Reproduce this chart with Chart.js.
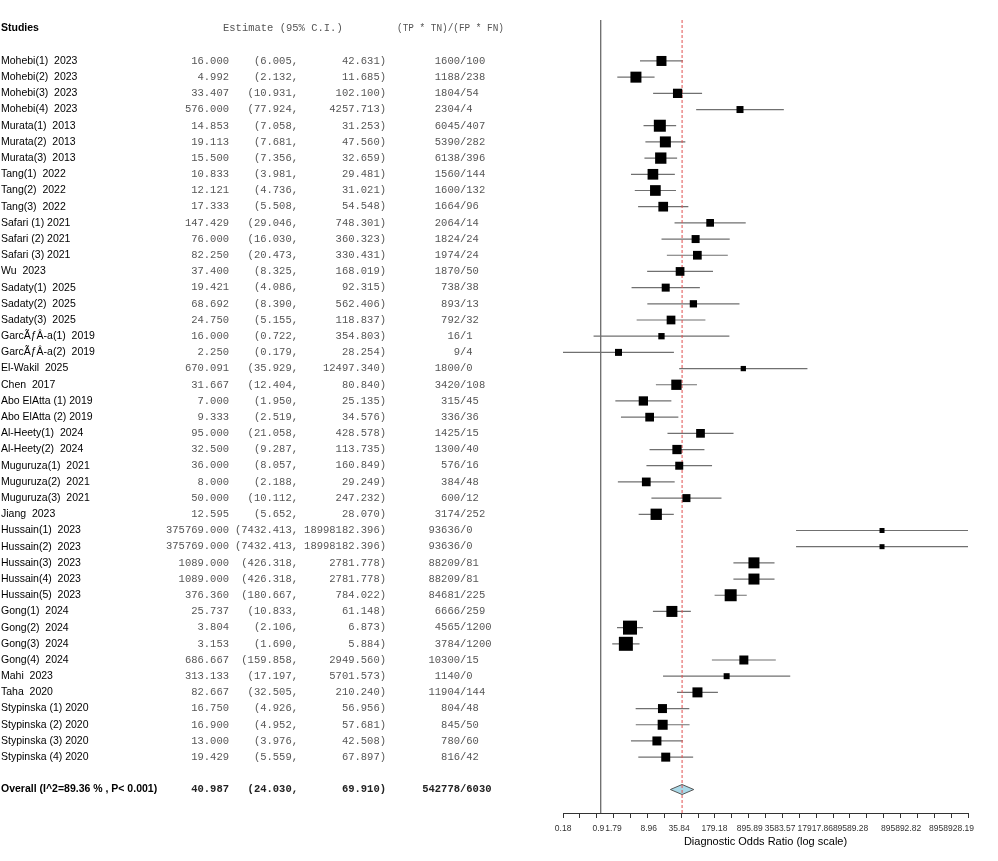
<!DOCTYPE html>
<html>
<head>
<meta charset="utf-8">
<script src="https://cdn.jsdelivr.net/npm/chart.js@4.4.1/dist/chart.umd.min.js"></script>
<style>
  html, body { margin: 0; padding: 0; background: #fff; }
  canvas { display: block; }
</style>
</head>
<body>
<canvas id="forest" width="998" height="861"></canvas>
<script>
// study rows, top to bottom
const studies = [
  "Mohebi(1)  2023", "Mohebi(2)  2023", "Mohebi(3)  2023", "Mohebi(4)  2023",
  "Murata(1)  2013", "Murata(2)  2013", "Murata(3)  2013",
  "Tang(1)  2022", "Tang(2)  2022", "Tang(3)  2022",
  "Safari (1) 2021", "Safari (2) 2021", "Safari (3) 2021",
  "Wu  2023",
  "Sadaty(1)  2025", "Sadaty(2)  2025", "Sadaty(3)  2025",
  "GarcÃƒÂ-a(1)  2019", "GarcÃƒÂ-a(2)  2019",
  "El-Wakil  2025", "Chen  2017",
  "Abo ElAtta (1) 2019", "Abo ElAtta (2) 2019",
  "Al-Heety(1)  2024", "Al-Heety(2)  2024",
  "Muguruza(1)  2021", "Muguruza(2)  2021", "Muguruza(3)  2021",
  "Jiang  2023",
  "Hussain(1)  2023", "Hussain(2)  2023", "Hussain(3)  2023", "Hussain(4)  2023", "Hussain(5)  2023",
  "Gong(1)  2024", "Gong(2)  2024", "Gong(3)  2024", "Gong(4)  2024",
  "Mahi  2023", "Taha  2020",
  "Stypinska (1) 2020", "Stypinska (2) 2020", "Stypinska (3) 2020", "Stypinska (4) 2020"
];

const estimates = [
  16.000, 4.992, 33.407, 576.000,
  14.853, 19.113, 15.500,
  10.833, 12.121, 17.333,
  147.429, 76.000, 82.250,
  37.400,
  19.421, 68.692, 24.750,
  16.000, 2.250,
  670.091, 31.667,
  7.000, 9.333,
  95.000, 32.500,
  36.000, 8.000, 50.000,
  12.595,
  375769.000, 375769.000, 1089.000, 1089.000, 376.360,
  25.737, 3.804, 3.153, 686.667,
  313.133, 82.667,
  16.750, 16.900, 13.000, 19.429
];

const lowerCI = [
  6.005, 2.132, 10.931, 77.924,
  7.058, 7.681, 7.356,
  3.981, 4.736, 5.508,
  29.046, 16.030, 20.473,
  8.325,
  4.086, 8.390, 5.155,
  0.722, 0.179,
  35.929, 12.404,
  1.950, 2.519,
  21.058, 9.287,
  8.057, 2.188, 10.112,
  5.652,
  7432.413, 7432.413, 426.318, 426.318, 180.667,
  10.833, 2.106, 1.690, 159.858,
  17.197, 32.505,
  4.926, 4.952, 3.976, 5.559
];

const upperCI = [
  42.631, 11.685, 102.100, 4257.713,
  31.253, 47.560, 32.659,
  29.481, 31.021, 54.548,
  748.301, 360.323, 330.431,
  168.019,
  92.315, 562.406, 118.837,
  354.803, 28.254,
  12497.340, 80.840,
  25.135, 34.576,
  428.578, 113.735,
  160.849, 29.249, 247.232,
  28.070,
  18998182.396, 18998182.396, 2781.778, 2781.778, 784.022,
  61.148, 6.873, 5.884, 2949.560,
  5701.573, 210.240,
  56.956, 57.681, 42.508, 67.897
];

// (TP * TN) / (FP * FN)
const ratioNum = [
  1600, 1188, 1804, 2304,
  6045, 5390, 6138,
  1560, 1600, 1664,
  2064, 1824, 1974,
  1870,
  738, 893, 792,
  16, 9,
  1800, 3420,
  315, 336,
  1425, 1300,
  576, 384, 600,
  3174,
  93636, 93636, 88209, 88209, 84681,
  6666, 4565, 3784, 10300,
  1140, 11904,
  804, 845, 780, 816
];
const ratioDen = [
  100, 238, 54, 4,
  407, 282, 396,
  144, 132, 96,
  14, 24, 24,
  50,
  38, 13, 32,
  1, 4,
  0, 108,
  45, 36,
  15, 40,
  16, 48, 12,
  252,
  0, 0, 81, 81, 225,
  259, 1200, 1200, 15,
  0, 144,
  48, 50, 60, 42
];

// relative study weights (box area)
const weights = [
  10.0, 12.1, 8.6, 4.9,
  14.4, 12.1, 12.8,
  11.4, 11.4, 9.4,
  5.9, 6.4, 7.6,
  7.6,
  6.4, 5.3, 7.6,
  4.0, 4.9,
  2.8, 10.6,
  8.6, 7.6,
  7.6, 8.6,
  6.4, 7.6, 6.4,
  12.8,
  2.5, 2.5, 12.1, 12.1, 14.4,
  12.1, 19.6, 19.6, 8.1,
  3.6, 10.0,
  8.1, 10.0, 8.1, 8.1
];

const overallLabel = "Overall (I^2=89.36 % , P< 0.001)";
const overallEst = 40.987;
const overallLower = 24.030;
const overallUpper = 69.910;
const overallNum = 542778;
const overallDen = 6030;

const tickLabels = ["0.18", "0.9", "1.79", "8.96", "35.84", "179.18", "895.89",
  "3583.57", "17917.86", "89589.28", "895892.82", "8958928.19"];

// layout helpers
const HEADER_ROW = -2;
const OVERALL_ROW = studies.length + 1;
const Y_TOP = -2.53;
const Y_BOTTOM = 46.45;
const axisMin = Math.min(...lowerCI);
const axisMax = Math.max(...upperCI);
const MARKS = 25;
const markTicks = [];
for (let k = 0; k < MARKS; k++) {
  markTicks.push({ value: axisMin * Math.pow(axisMax / axisMin, k / (MARKS - 1)) });
}
const labelTicks = tickLabels.map(t => ({ value: parseFloat(t) }));

// CI segments, separated by gaps
const ciPoints = [];
studies.forEach((s, i) => {
  ciPoints.push({ x: lowerCI[i], y: i }, { x: upperCI[i], y: i }, { x: null, y: null });
});
const boxPoints = studies.map((s, i) => ({ x: estimates[i], y: i }));
const boxSide = weights.map(w => Math.sqrt(w * 10));

const dh = 0.31;
const diamond = [
  { x: overallLower, y: OVERALL_ROW },
  { x: overallEst, y: OVERALL_ROW - dh },
  { x: overallUpper, y: OVERALL_ROW },
  { x: overallEst, y: OVERALL_ROW + dh },
  { x: overallLower, y: OVERALL_ROW }
];

const SANS = "'Liberation Sans', Arial, sans-serif";
const MONO = "'Liberation Mono', 'Courier New', monospace";

// draws the table on the left, aligned to the y scale rows
const tableText = {
  id: "tableText",
  afterDraw(chart) {
    const ctx = chart.ctx;
    const ys = chart.scales.y;
    ctx.save();
    ctx.textBaseline = "middle";

    const hy = ys.getPixelForValue(HEADER_ROW);
    ctx.fillStyle = "#000";
    ctx.font = "bold 10.5px " + SANS;
    ctx.textAlign = "left";
    ctx.fillText("Studies", 1, hy);
    ctx.fillStyle = "#555";
    ctx.font = "10.5px " + MONO;
    ctx.fillText("Estimate (95% C.I.)", 223, hy);
    ctx.fillText("(TP * TN)/(FP * FN)", 397, hy, 107);

    const row = (py, name, est, lo, hi, num, den, bold) => {
      ctx.fillStyle = "#000";
      ctx.font = (bold ? "bold " : "") + "10.5px " + SANS;
      ctx.textAlign = "left";
      ctx.fillText(name, 1, py);
      ctx.fillStyle = bold ? "#222" : "#555";
      ctx.font = (bold ? "bold " : "") + "10.5px " + MONO;
      ctx.textAlign = "right";
      ctx.fillText(est.toFixed(3), 229, py);
      ctx.fillText("(" + lo.toFixed(3) + ",", 298, py);
      ctx.fillText(hi.toFixed(3) + ")", 386, py);
      ctx.fillText(String(num), 460, py);
      ctx.textAlign = "left";
      ctx.fillText("/" + den, 460, py);
    };

    studies.forEach((name, i) => {
      row(ys.getPixelForValue(i), name, estimates[i], lowerCI[i], upperCI[i], ratioNum[i], ratioDen[i], false);
    });
    row(ys.getPixelForValue(OVERALL_ROW), overallLabel, overallEst, overallLower, overallUpper, overallNum, overallDen, true);
    ctx.restore();
  }
};

new Chart(document.getElementById("forest"), {
  type: "scatter",
  data: {
    datasets: [
      {
        // null line at DOR = 1
        type: "line",
        data: [{ x: 1, y: Y_TOP }, { x: 1, y: Y_BOTTOM }],
        borderColor: "#6a6a6a",
        borderWidth: 1.3,
        pointRadius: 0,
        order: 6
      },
      {
        type: "line",
        data: ciPoints,
        borderColor: "#707070",
        borderWidth: 1.2,
        pointRadius: 0,
        spanGaps: false,
        order: 5
      },
      {
        type: "line",
        data: diamond,
        borderColor: "#555",
        borderWidth: 1,
        backgroundColor: "#a9d9e8",
        fill: "shape",
        pointRadius: 0,
        tension: 0,
        order: 4
      },
      {
        // overall estimate
        type: "line",
        data: [{ x: overallEst, y: Y_TOP }, { x: overallEst, y: Y_BOTTOM }],
        borderColor: "#e05050",
        borderWidth: 1,
        borderDash: [3, 2],
        pointRadius: 0,
        order: 3
      },
      {
        data: boxPoints,
        pointStyle: "rect",
        pointRadius: ctx => boxSide[ctx.dataIndex] / Math.SQRT2,
        backgroundColor: "#000",
        borderWidth: 0,
        order: 1
      }
    ]
  },
  options: {
    responsive: false,
    animation: false,
    devicePixelRatio: 1,
    layout: { padding: { left: 563, right: 30, top: 20, bottom: 0 } },
    plugins: { legend: { display: false }, tooltip: { enabled: false } },
    scales: {
      y: {
        type: "linear",
        reverse: true,
        min: Y_TOP,
        max: Y_BOTTOM,
        display: false
      },
      x: {
        type: "logarithmic",
        min: axisMin,
        max: axisMax,
        afterBuildTicks: scale => { scale.ticks = markTicks.concat(labelTicks); },
        afterFit: scale => { scale.height = 48; },
        border: { display: true, color: "#333", width: 1 },
        grid: {
          drawOnChartArea: false,
          drawTicks: true,
          tickLength: 5,
          tickWidth: 1,
          tickColor: ctx => ctx.index < MARKS ? "#333" : "rgba(0,0,0,0)"
        },
        ticks: {
          autoSkip: false,
          maxRotation: 0,
          minRotation: 0,
          padding: 6,
          color: "#333",
          font: { family: SANS, size: 8.5 },
          callback: (v, i) => i < MARKS ? "" : tickLabels[i - MARKS]
        },
        title: {
          display: true,
          text: "Diagnostic Odds Ratio (log scale)",
          color: "#000",
          font: { family: SANS, size: 11 },
          padding: { top: 0, bottom: 12 }
        }
      }
    }
  },
  plugins: [tableText]
});
</script>
</body>
</html>
